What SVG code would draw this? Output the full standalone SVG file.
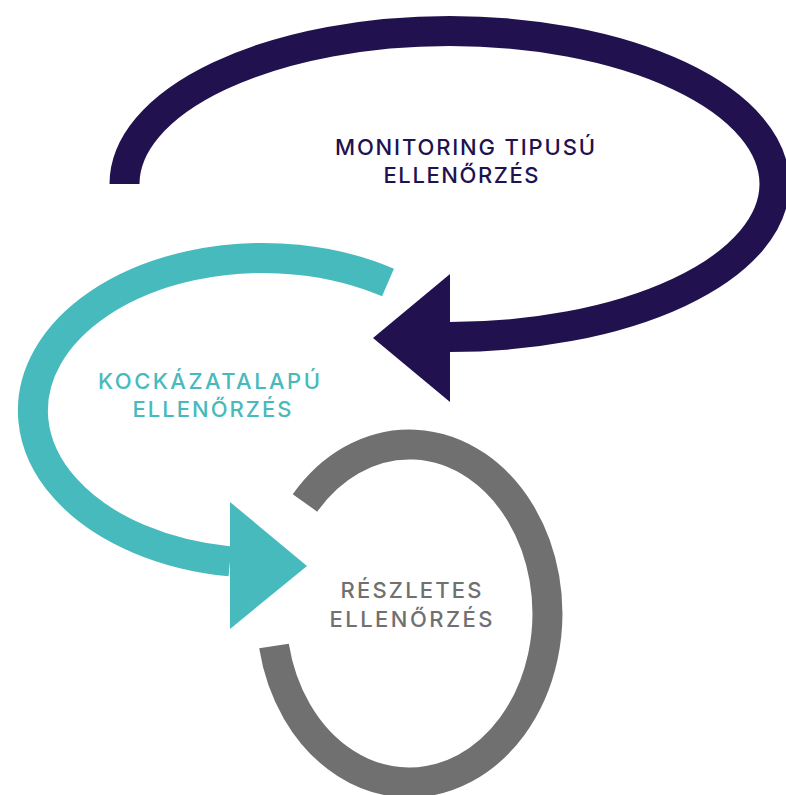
<svg xmlns="http://www.w3.org/2000/svg" width="786" height="795" viewBox="0 0 786 795">
<style>
.ring{fill:none;stroke-width:30;stroke-linecap:butt}
.lbl{font-family:Inter,"Open Sans","Liberation Sans",sans-serif;font-weight:500;font-size:22px;text-anchor:middle}
.navy{stroke:#21124F}.navyf{fill:#21124F}
.teal{stroke:#47BABD}.tealf{fill:#47BABD}
.gray{stroke:#707070}.grayf{fill:#707070}
</style>
<rect width="786" height="795" fill="#FFFFFF"/>
<g id="node-monitoring">
<path class="ring navy" d="M 124.5 184 A 325 153 0 1 1 449 337"/>
<text class="lbl navyf" x="465" y="155" textLength="260" lengthAdjust="spacing">MONITORING TIPUSÚ</text>
<text class="lbl navyf" x="461" y="183" textLength="155" lengthAdjust="spacing">ELLENŐRZÉS</text>
</g>
<g id="node-kockazatalapu">
<path class="ring teal" d="M 388 282.5 A 230 152.5 0 1 0 230 561.4"/>
<text class="lbl tealf" x="209" y="389" textLength="222" lengthAdjust="spacing">KOCKÁZATALAPÚ</text>
<text class="lbl tealf" x="212" y="417" textLength="159" lengthAdjust="spacing">ELLENŐRZÉS</text>
</g>
<g id="node-reszletes">
<path class="ring gray" d="M 305 503 A 138 169 0 1 1 274 646"/>
<text class="lbl grayf" x="411" y="598" textLength="141" lengthAdjust="spacing">RÉSZLETES</text>
<text class="lbl grayf" x="411" y="627" textLength="163" lengthAdjust="spacing">ELLENŐRZÉS</text>
</g>
<g id="connectors">
<polygon class="navyf" points="450,274 450,402 373,338"/>
<polygon class="tealf" points="230,502 230,629 307,566"/>
</g>
</svg>
